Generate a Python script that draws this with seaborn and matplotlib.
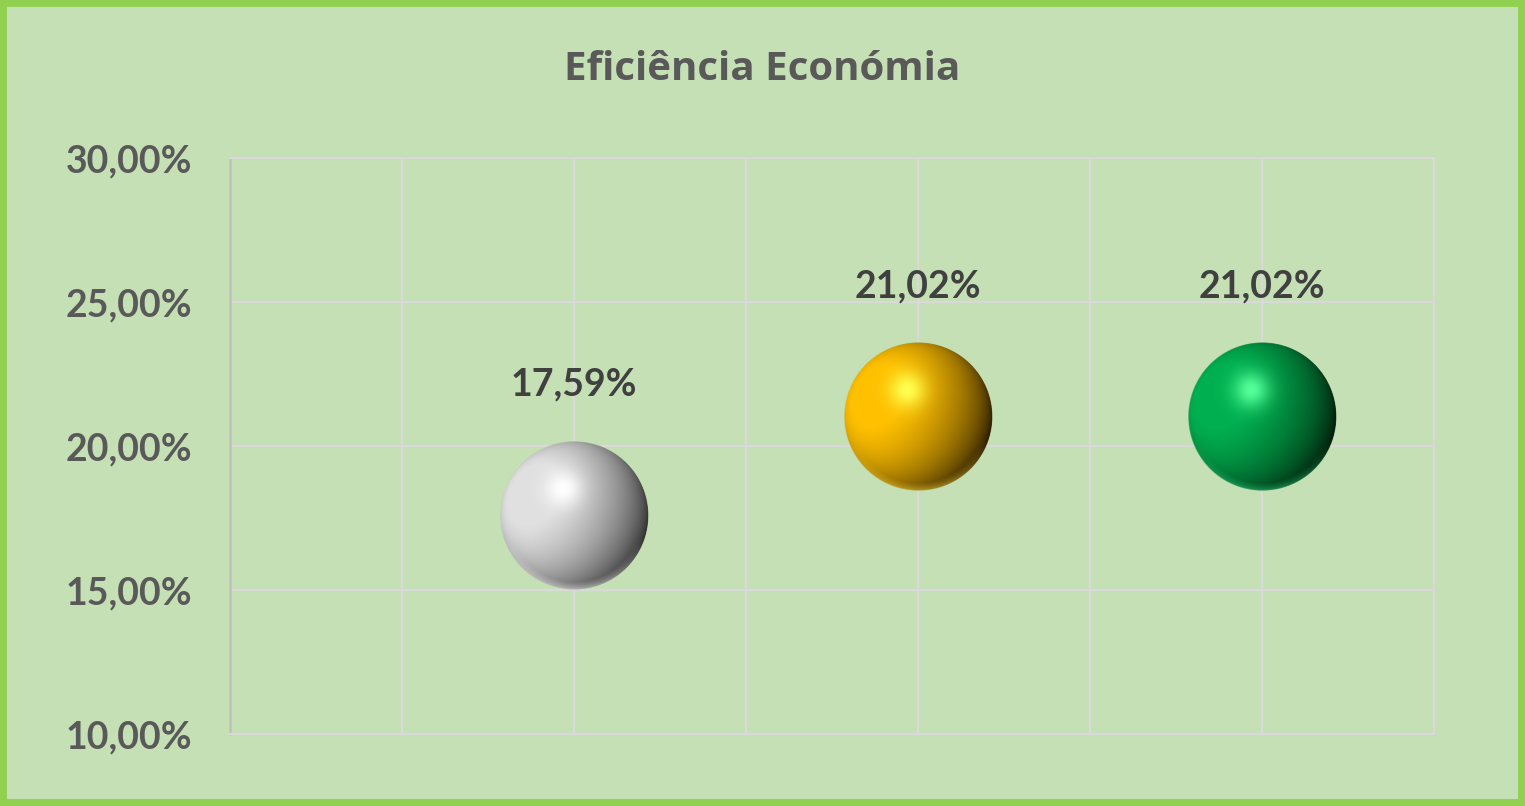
import matplotlib
matplotlib.use("Agg")
import matplotlib.pyplot as plt
import matplotlib.transforms as mtransforms
from matplotlib.colors import to_rgb
from matplotlib.patches import Circle
from matplotlib.ticker import FuncFormatter, MultipleLocator
import numpy as np
import pandas as pd
import seaborn as sns

# data
positions = [1, 2, 3]
values = [17.59, 21.02, 21.02]
labels = ["17,59%", "21,02%", "21,02%"]
# dark side, body, highlight, rim light
ball_colors = [
    ["#303030", "#e0e0e0", "#ffffff", "#ffffff"],
    ["#2a1c00", "#ffc000", "#ffff50", "#ffd840"],
    ["#001a08", "#00b050", "#55ff9a", "#30d080"],
]
title = "Eficiência Económia"

BG = "#c5e0b4"
BORDER = "#92d050"
GRID = "#d9d9d9"

sns.set_style("white")
plt.rcParams["font.family"] = ["Lato", "DejaVu Sans"]
plt.rcParams["font.weight"] = "bold"

fig = plt.figure(figsize=(15.25, 8.06), dpi=100, facecolor=BG)
ax = fig.add_axes([230 / 1525, 1 - 734 / 806, 1204 / 1525, 576 / 806])
ax.set_facecolor(BG)

df = pd.DataFrame({"x": positions, "y": values})

R_in = 0.745          # ball radius in inches
R_pt = R_in * 72


def sphere_image(dark, body, light, rim, n=300):
    dark, body, light, rim = [np.array(to_rgb(c)) for c in (dark, body, light, rim)]
    g = np.linspace(-1, 1, n)
    u, v = np.meshgrid(g, g)
    rr = u ** 2 + v ** 2
    z = np.sqrt(np.clip(1 - rr, 0, 1))
    hu, hv = -0.15, 0.36
    L = np.array([-0.62, 0.3, 0.72])
    L = L / np.linalg.norm(L)
    ndl = u * L[0] + v * L[1] + z * L[2]
    shade = np.clip((ndl + 0.55) / 1.45, 0, 1) ** 1.0
    col = dark * (1 - shade[..., None]) + body * shade[..., None]
    spec = np.exp(-((u - hu) ** 2 + (v - hv) ** 2) / (2 * 0.17 ** 2))
    col = col * (1 - spec[..., None]) + light * spec[..., None]
    rl = np.clip(-v - 0.3, 0, 1) * np.clip(rr - 0.8, 0, 1) * 4.0
    rl = np.clip(rl, 0, 0.7)
    col = col * (1 - rl[..., None]) + rim * rl[..., None]
    alpha = np.clip((1 - np.sqrt(rr)) * n / 2, 0, 1)
    return np.dstack([np.clip(col, 0, 1), alpha])


# base point through seaborn, shaded sphere drawn on it
sns.scatterplot(data=df, x="x", y="y", ax=ax, s=(2 * R_pt) ** 2,
                color=ball_colors[0][1], edgecolor="none", linewidth=0,
                zorder=3, legend=False)
ax.collections[-1].set_alpha(0)

for i, row in df.iterrows():
    tr = fig.dpi_scale_trans + mtransforms.ScaledTranslation(row.x, row.y, ax.transData)
    img = sphere_image(*ball_colors[i])
    im = ax.imshow(img, extent=[-R_in, R_in, -R_in, R_in], origin="lower",
                   interpolation="bilinear", transform=tr, zorder=4, aspect="auto")
    im.set_clip_path(Circle((0, 0), R_in, transform=tr))

    ax.annotate(labels[i], (row.x, row.y), xytext=(0, 94),
                textcoords="offset points", ha="center", va="center",
                fontsize=27, fontweight="bold", color="#404040", zorder=6)

ax.set_xlim(0, 3.5)
ax.set_ylim(10, 30)
ax.set_aspect("auto")
ax.xaxis.set_major_locator(MultipleLocator(0.5))
ax.yaxis.set_major_locator(MultipleLocator(5))
ax.yaxis.set_major_formatter(FuncFormatter(lambda v, p: ("%.2f%%" % v).replace(".", ",")))
ax.set_xticklabels([])
ax.grid(True, color=GRID, linewidth=1.6, zorder=0)
ax.set_axisbelow(True)
ax.tick_params(axis="both", length=0)
ax.tick_params(axis="y", pad=27, labelsize=27, labelcolor="#595959")
for lbl in ax.get_yticklabels():
    lbl.set_fontweight("bold")
for side in ["top", "right", "bottom"]:
    ax.spines[side].set_color(GRID)
    ax.spines[side].set_linewidth(1.6)
ax.spines["left"].set_color("#bfbfbf")
ax.spines["left"].set_linewidth(1.8)
ax.set_xlabel("")
ax.set_ylabel("")

fig.text(0.5, 1 - 70 / 806, title, ha="center", va="center",
         fontsize=29, fontweight="bold", color="#595959",
         family=["Open Sans", "DejaVu Sans"])

fig.patches.append(plt.Rectangle((0, 0), 1, 1, transform=fig.transFigure,
                                 fill=False, edgecolor=BORDER, linewidth=10,
                                 zorder=10))

fig.savefig("out.png", dpi=100, facecolor=BG)
